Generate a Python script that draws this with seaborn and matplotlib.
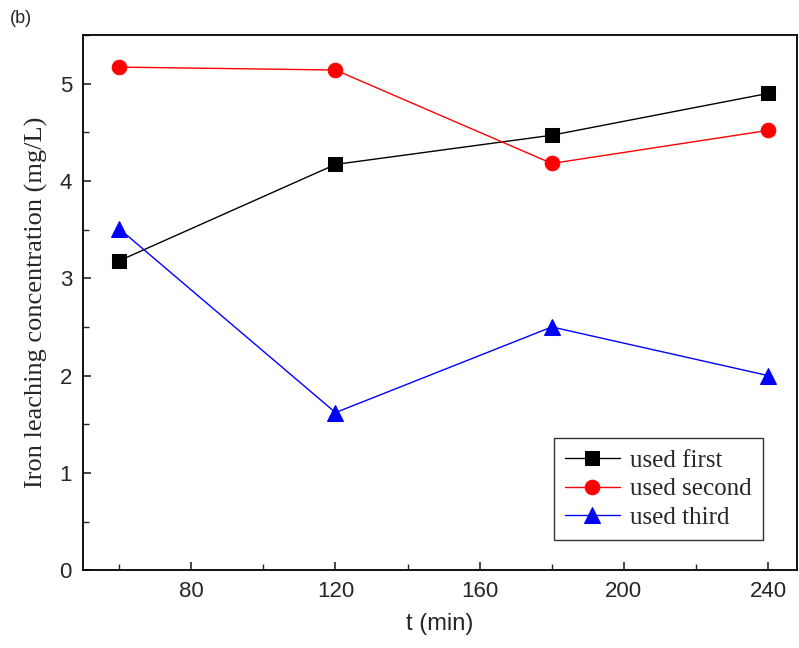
import pandas as pd
import matplotlib
matplotlib.use("Agg")
import matplotlib.pyplot as plt
import seaborn as sns
from matplotlib.ticker import MultipleLocator

# ---- data ----
t_min = [60, 120, 180, 240]
used_first = [3.18, 4.17, 4.47, 4.90]
used_second = [5.17, 5.14, 4.18, 4.52]
used_third = [3.51, 1.62, 2.50, 2.00]

series_names = ["used first", "used second", "used third"]
series_vals = [used_first, used_second, used_third]
colors = ["black", "red", "blue"]
markers = ["s", "o", "^"]
msizes = [9.5, 10.5, 11.5]

df = pd.concat([
    pd.DataFrame({"t": t_min, "conc": v, "series": n})
    for n, v in zip(series_names, series_vals)
])

sns.set_style("ticks")
plt.rcParams['font.family'] = ['Liberation Sans', 'DejaVu Sans']

fig = plt.figure(figsize=(7.99, 6.48), dpi=100)
ax = fig.add_axes([0.104, 0.12, 0.8935, 0.826])

for name, col, mk, ms in zip(series_names, colors, markers, msizes):
    sub = df[df["series"] == name]
    sns.lineplot(data=sub, x="t", y="conc", ax=ax, color=col, marker=mk,
                 markersize=ms, markeredgecolor=col, linewidth=1,
                 label=name)

ax.set_xlim(50, 248)
ax.set_ylim(0, 5.5)
ax.xaxis.set_major_locator(MultipleLocator(40))
ax.xaxis.set_minor_locator(MultipleLocator(20))
ax.yaxis.set_major_locator(MultipleLocator(1))
ax.yaxis.set_minor_locator(MultipleLocator(0.5))
ax.tick_params(which="both", direction="in", top=False, right=False)
ax.tick_params(which="major", length=6, width=1.2, labelsize=16, pad=8)
ax.tick_params(which="minor", length=4, width=1.0)

for sp in ax.spines.values():
    sp.set_linewidth(1.3)
    sp.set_color("black")

ax.set_xlabel("t (min)", fontsize=17, labelpad=8)
ax.set_ylabel("Iron leaching concentration (mg/L)", fontsize=19,
              family=["Liberation Serif", "DejaVu Serif"], labelpad=8)

leg = ax.legend(loc="lower right", bbox_to_anchor=(0.952, 0.056),
                prop={"family": "Liberation Serif", "size": 18},
                frameon=True, fancybox=False, edgecolor="black",
                handlelength=2.2, borderpad=0.45, labelspacing=0.25,
                handletextpad=0.4, borderaxespad=0)
leg.get_frame().set_linewidth(1.0)

fig.text(0.012, 0.965, "(b)", fontsize=13)

fig.savefig("out.png", dpi=100)
